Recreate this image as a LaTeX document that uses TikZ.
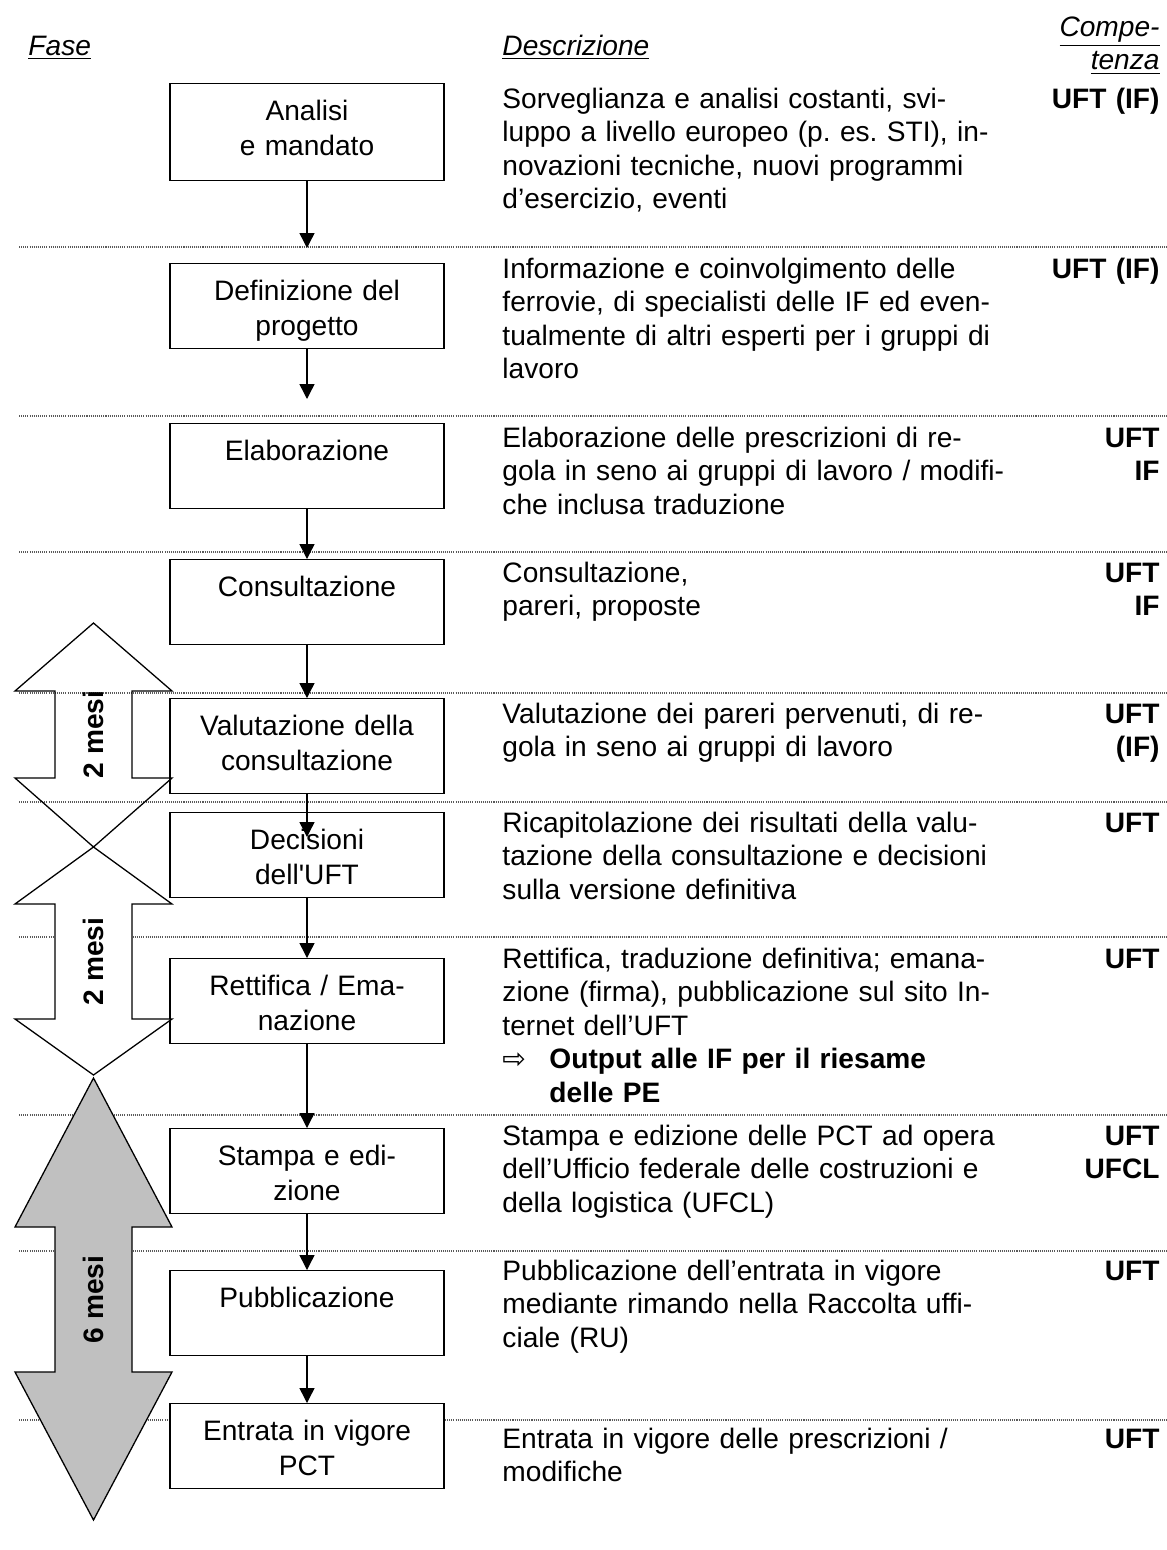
\documentclass[tikz,border=0pt]{standalone}
\usepackage{fontspec}
\setmainfont{Liberation Sans}
\newfontfamily\symfont{DejaVu Sans}
\usetikzlibrary{arrows.meta}
\definecolor{spangray}{RGB}{192,192,192}
\frenchspacing

\begin{document}
\begin{tikzpicture}[x=0.015cm, y=-0.015cm,
  every node/.style={inner sep=0pt},
  fase/.style={draw, line width=0.6pt, fill=white, anchor=north, text width=4.11cm, align=center,
    text height=0.555cm, text depth=0.72cm, font=\fontsize{12}{14.9}\selectfont},
  descr/.style={anchor=base west, text width=11cm, align=left, font=\fontsize{12}{14.3}\selectfont},
  comp/.style={anchor=base east, text width=3cm, align=right, font=\bfseries\fontsize{12}{14.3}\selectfont},
  head/.style={font=\itshape\fontsize{12}{14.3}\selectfont},
  flow/.style={-{Triangle[length=0.225cm, width=0.225cm]}, line width=0.6pt},
  rule/.style={line width=0.45pt, black!65, dash pattern=on 0.45pt off 0.45pt},
  span/.style={line width=0.55pt, line join=miter},
  mesi/.style={rotate=90, font=\bfseries\fontsize{12}{14.3}\selectfont}]
\useasboundingbox (0,0) rectangle (1167,1550);

% Rules
\foreach \y in {247,416,552,693,802,937,1115,1251,1420}
  \draw[rule] (19,\y) -- (1167,\y);

% Headings
\node[head, anchor=base west] (hfase) at (28,55) {\underline{Fase}};
\node[head, anchor=base west] (hdescr) at (502,55) {\underline{Descrizione}};
\node[head, anchor=base east, text width=3cm, align=right] (hcomp) at (1160,36) {\underline{Compe-}\\\underline{tenza}};

% Nodes
\node[fase, text depth=0.9cm] (ana) at (307,83) {Analisi\\e mandato};
\node[fase] (def) at (307,263) {Definizione del\\progetto};
\node[fase] (ela) at (307,423) {Elaborazione};
\node[fase] (con) at (307,559) {Consultazione};
\node[fase, text depth=0.87cm] (val) at (307,698) {Valutazione della\\consultazione};
\node[fase] (dec) at (307,812) {Decisioni\\dell\textquotesingle UFT};
\node[fase] (ret) at (307,958) {Rettifica / Ema-\\nazione};
\node[fase] (sta) at (307,1128) {Stampa e edi-\\zione};
\node[fase] (pub) at (307,1270) {Pubblicazione};
\node[fase] (ent) at (307,1403) {Entrata in vigore\\PCT};
\coordinate (decin) at (307,837);

% Descriptions
\node[descr] (d1) at (502,108) {Sorveglianza e analisi costanti, svi-\\luppo a livello europeo (p. es. STI), in-\\novazioni tecniche, nuovi programmi\\d’esercizio, eventi};
\node[descr] (d2) at (502,278) {Informazione e coinvolgimento delle\\ferrovie, di specialisti delle IF ed even-\\tualmente di altri esperti per i gruppi di\\lavoro};
\node[descr] (d3) at (502,447) {Elaborazione delle prescrizioni di re-\\gola in seno ai gruppi di lavoro / modifi-\\che inclusa traduzione};
\node[descr] (d4) at (502,582) {Consultazione,\\pareri, proposte};
\node[descr] (d5) at (502,723) {Valutazione dei pareri pervenuti, di re-\\gola in seno ai gruppi di lavoro};
\node[descr] (d6) at (502,832) {Ricapitolazione dei risultati della valu-\\tazione della consultazione e decisioni\\sulla versione definitiva};
\node[descr] (d7) at (502,968) {Rettifica, traduzione definitiva; emana-\\zione (firma), pubblicazione sul sito In-\\ternet dell’UFT\\
  \makebox[0.705cm][l]{\symfont\fontsize{12}{12}\selectfont ⇨}\textbf{Output alle IF per il riesame}\\\hspace*{0.705cm}\textbf{delle PE}};
\node[descr] (d8) at (502,1145) {Stampa e edizione delle PCT ad opera\\dell’Ufficio federale delle costruzioni e\\della logistica (UFCL)};
\node[descr] (d9) at (502,1280) {Pubblicazione dell’entrata in vigore\\mediante rimando nella Raccolta uffi-\\ciale (RU)};
\node[descr] (d10) at (502,1448) {Entrata in vigore delle prescrizioni /\\modifiche};

% Competenze
\node[comp] (c1) at (1160,108) {UFT (IF)};
\node[comp] (c2) at (1160,278) {UFT (IF)};
\node[comp] (c3) at (1160,447) {UFT\\IF};
\node[comp] (c4) at (1160,582) {UFT\\IF};
\node[comp] (c5) at (1160,723) {UFT\\(IF)};
\node[comp] (c6) at (1160,832) {UFT};
\node[comp] (c7) at (1160,968) {UFT};
\node[comp] (c8) at (1160,1145) {UFT\\UFCL};
\node[comp] (c9) at (1160,1280) {UFT};
\node[comp] (c10) at (1160,1448) {UFT};

% Arrows
\draw[flow, shorten >=0.225cm] (ana.south) -- (def.north);
\draw[flow, shorten >=0.36cm] (def.south) -- (ela.north);
\draw[flow] (ela.south) -- (con.north);
\draw[flow] (con.south) -- (val.north);
\draw[flow] (val.south) -- (decin);
\draw[flow] (dec.south) -- (ret.north);
\draw[flow] (ret.south) -- (sta.north);
\draw[flow] (sta.south) -- (pub.north);
\draw[flow] (pub.south) -- (ent.north);

% Durations
\draw[span] (93.5,623) -- (172,691) -- (132,691) -- (132,778) -- (172,778) -- (93.5,847)
  -- (15,778) -- (55,778) -- (55,691) -- (15,691) -- cycle;
\draw[span, fill=white] (93.5,847) -- (172,904) -- (132,904) -- (132,1019) -- (172,1019) -- (93.5,1075)
  -- (15,1019) -- (55,1019) -- (55,904) -- (15,904) -- cycle;
\draw[span, fill=spangray] (93.5,1078) -- (172,1227) -- (132,1227) -- (132,1372) -- (172,1372) -- (93.5,1520)
  -- (15,1372) -- (55,1372) -- (55,1227) -- (15,1227) -- cycle;
\node[mesi] (m1) at (93.5,734.5) {2 mesi};
\node[mesi] (m2) at (93.5,961.5) {2 mesi};
\node[mesi] (m3) at (93.5,1299.5) {6 mesi};

\end{tikzpicture}
\end{document}
